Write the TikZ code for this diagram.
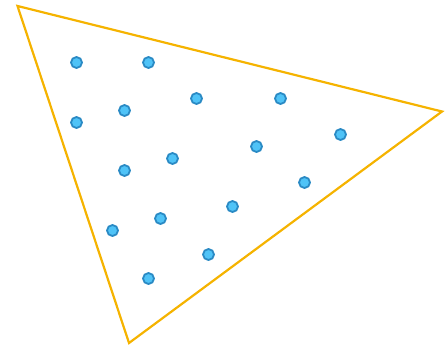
\documentclass[tikz,border=0pt]{standalone}
\definecolor{hullorange}{HTML}{F5B300}
\definecolor{ptfill}{HTML}{4FC3F7}
\definecolor{ptedge}{HTML}{2A8AC4}
\tikzset{pt/.style={circle,draw=ptedge,fill=ptfill,line width=1.8pt,inner sep=0pt,minimum size=11pt}}
\begin{document}
\begin{tikzpicture}[x=1pt,y=-1pt]
  \useasboundingbox (0,0) rectangle (448,348);
  \draw[hullorange,line width=2.2pt,line join=miter] (17.5,6) -- (442,111.5) -- (129,343) -- cycle;
  \foreach \px/\py [count=\i] in {76/62,148/62,76/122,124/110,196/98,280/98,340/134,256/146,
      172/158,124/170,304/182,232/206,160/218,112/230,208/254,148/278}
    \node[pt] (p\i) at (\px+0.5,\py+0.5) {};
\end{tikzpicture}
\end{document}
